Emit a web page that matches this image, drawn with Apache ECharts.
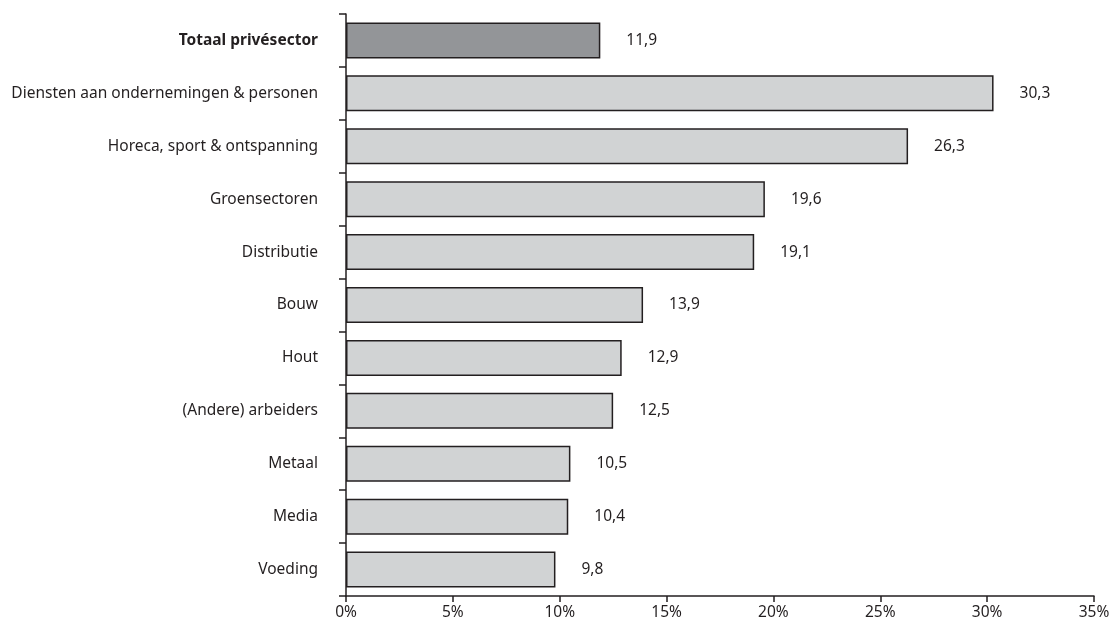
<!DOCTYPE html>
<html><head><meta charset="utf-8">
<script src="https://cdn.jsdelivr.net/npm/echarts@6/dist/echarts.min.js"></script>
<style>html,body{margin:0;padding:0;background:#fff}#c{width:1113px;height:626px}</style>
</head><body><div id="c"></div>
<script>
const categories = ["Totaal privésector","Diensten aan ondernemingen & personen","Horeca, sport & ontspanning","Groensectoren","Distributie","Bouw","Hout","(Andere) arbeiders","Metaal","Media","Voeding"];
const values = [11.9,30.3,26.3,19.6,19.1,13.9,12.9,12.5,10.5,10.4,9.8];
const highlightIndex = 0;
const xTicks = [0,5,10,15,20,25,30,35];

const txt = '#231f20';
const fs = 15.5;
const chart = echarts.init(document.getElementById('c'));
chart.setOption({
  animation:false,
  grid:{left:346,right:19,top:14,bottom:30,containLabel:false},
  xAxis:{type:'value',min:0,max:35,interval:5,
    axisLine:{show:true,lineStyle:{color:txt,width:1.5}},
    axisTick:{show:true,length:6,lineStyle:{color:txt,width:1.5}},
    splitLine:{show:false},
    axisLabel:{color:txt,fontFamily:'Noto Sans',fontSize:fs,margin:9,formatter:v=>v+'%'}},
  yAxis:{type:'category',inverse:true,data:categories,
    axisLine:{show:true,lineStyle:{color:txt,width:1.5}},
    axisTick:{show:true,length:7,lineStyle:{color:txt,width:1.5}},
    axisLabel:{color:txt,fontFamily:'Noto Sans',fontSize:fs,margin:28,
      formatter:(v,i)=> i===highlightIndex ? '{b|'+v+'}' : v,
      rich:{b:{fontWeight:'bold',color:txt,fontFamily:'Noto Sans',fontSize:fs}}}},
  series:[{type:'bar',barWidth:36,
    data:values.map((v,i)=>({value:v,itemStyle:{color:i===highlightIndex?'#939598':'#d1d3d4',borderColor:txt,borderWidth:1.5}})),
    label:{show:true,position:'right',distance:26,color:txt,fontFamily:'Noto Sans',fontSize:fs,
      formatter:p=>p.value.toFixed(1).replace('.',',')}}]
});
</script></body></html>
